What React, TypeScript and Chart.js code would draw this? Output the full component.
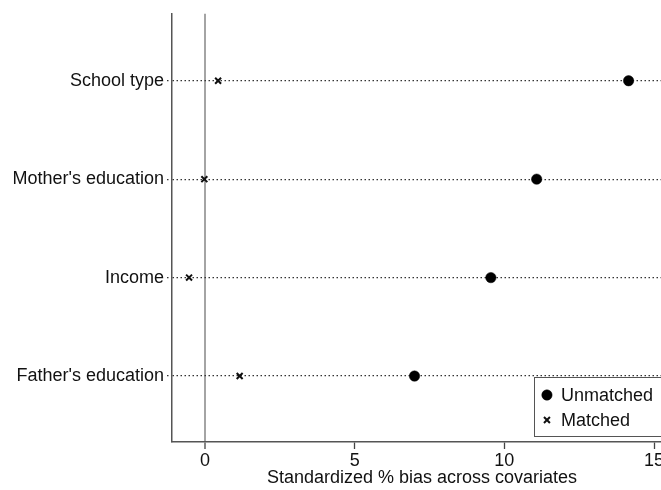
import React, { useEffect, useRef } from "react";
import { Chart, registerables } from "chart.js";
import { drawPoint } from "chart.js/helpers";

Chart.register(...registerables);

// Covariates, listed top to bottom
const covariates = ["School type", "Mother's education", "Income", "Father's education"];
// Standardized % bias before matching
const unmatchedBias = [14.15, 11.08, 9.55, 7.0];
// Standardized % bias after matching
const matchedBias = [0.44, -0.02, -0.53, 1.16];
const xTickValues = [0, 5, 10, 15];
const seriesNames = ["Unmatched", "Matched"];

const FONT = '"Liberation Sans", Arial, Helvetica, sans-serif';

// Row position for a covariate: top row gets the highest value
const rowOf = (i: number) => covariates.length - i;

const insideLegend = {
  id: "insideLegend",
  afterDraw(chart: any) {
    const { ctx, chartArea } = chart;
    const sets = chart.data.datasets;
    ctx.save();
    ctx.font = `18px ${FONT}`;
    const textW = Math.max(...sets.map((d: any) => ctx.measureText(d.label).width));
    const markerCol = 27;
    const boxW = markerCol + textW + 13;
    const boxH = 59;
    const right = chartArea.right - 6;
    const bottom = chartArea.bottom - 6;
    const left = right - boxW;
    const top = bottom - boxH;
    ctx.fillStyle = "#ffffff";
    ctx.fillRect(left, top, boxW, boxH);
    ctx.strokeStyle = "#555555";
    ctx.lineWidth = 1;
    ctx.strokeRect(Math.round(left) + 0.5, Math.round(top) + 0.5, Math.round(boxW), Math.round(boxH));
    sets.forEach((d: any, i: number) => {
      const cy = top + 18 + i * 25;
      ctx.fillStyle = d.backgroundColor;
      ctx.strokeStyle = d.borderColor;
      ctx.lineWidth = d.borderWidth;
      drawPoint(ctx, { pointStyle: d.pointStyle, radius: d.pointRadius, rotation: 0, borderWidth: d.borderWidth }, left + 13, cy);
      ctx.fillStyle = "#111111";
      ctx.textAlign = "left";
      ctx.textBaseline = "middle";
      ctx.fillText(d.label, left + markerCol, cy + 1);
    });
    ctx.restore();
  },
};

export default function App() {
  const canvasRef = useRef<HTMLCanvasElement | null>(null);

  useEffect(() => {
    if (!canvasRef.current) return;
    Chart.defaults.font.family = FONT;
    Chart.defaults.font.size = 18;
    Chart.defaults.color = "#111111";

    const chart = new Chart(canvasRef.current, {
      type: "scatter",
      data: {
        datasets: [
          {
            label: seriesNames[0],
            data: unmatchedBias.map((v, i) => ({ x: v, y: rowOf(i) })),
            pointStyle: "circle",
            pointRadius: 5.2,
            backgroundColor: "#000000",
            borderColor: "#000000",
            borderWidth: 0.5,
          },
          {
            label: seriesNames[1],
            data: matchedBias.map((v, i) => ({ x: v, y: rowOf(i) })),
            pointStyle: "crossRot",
            pointRadius: 4.2,
            backgroundColor: "#000000",
            borderColor: "#111111",
            borderWidth: 2,
          },
        ],
      },
      options: {
        animation: false,
        responsive: false,
        events: [],
        layout: { padding: { top: 13, right: 18, left: 0, bottom: 0 } },
        plugins: {
          legend: { display: false },
          tooltip: { enabled: false },
        },
        scales: {
          x: {
            type: "linear",
            min: -1.1,
            max: 15.6,
            afterBuildTicks: (axis: any) => {
              axis.ticks = xTickValues.map((v) => ({ value: v }));
            },
            afterFit: (scale: any) => {
              scale.height = 48;
            },
            ticks: { padding: 1, color: "#111111", font: { size: 18 } },
            grid: {
              drawOnChartArea: true,
              color: (c: any) => (c.tick && c.tick.value === 0 ? "#a4a4a4" : "rgba(0,0,0,0)"),
              lineWidth: (c: any) => (c.tick && c.tick.value === 0 ? 2 : 1),
              tickColor: "#444444",
              tickWidth: 1.3,
              tickLength: 7,
            },
            border: { color: "#555555", width: 1.5 },
            title: {
              display: true,
              text: "Standardized % bias across covariates",
              color: "#111111",
              font: { size: 18 },
              padding: { top: 0, bottom: 1 },
            },
          },
          y: {
            type: "linear",
            min: 0.33,
            max: 4.68,
            afterBuildTicks: (axis: any) => {
              axis.ticks = covariates.map((_, i) => ({ value: rowOf(i) }));
            },
            afterFit: (scale: any) => {
              scale.width = 172;
            },
            ticks: {
              padding: 3,
              color: "#111111",
              font: { size: 18 },
              callback: (v: any) => covariates[covariates.length - Number(v)],
            },
            grid: {
              color: "#333333",
              lineWidth: 1.3,
              tickColor: "#333333",
              tickLength: 5,
              tickWidth: 1.3,
              tickBorderDash: [1.5, 2.5],
            },
            border: { color: "#555555", width: 1.5, dash: [1.5, 2.5] },
          },
        },
      },
      plugins: [insideLegend],
    });
    return () => chart.destroy();
  }, []);

  return (
    <div
      style={{
        position: "absolute",
        left: 0,
        top: 0,
        width: 661,
        height: 490,
        overflow: "hidden",
        background: "#ffffff",
      }}
    >
      <canvas ref={canvasRef} width={690} height={490} style={{ display: "block" }} />
    </div>
  );
}
